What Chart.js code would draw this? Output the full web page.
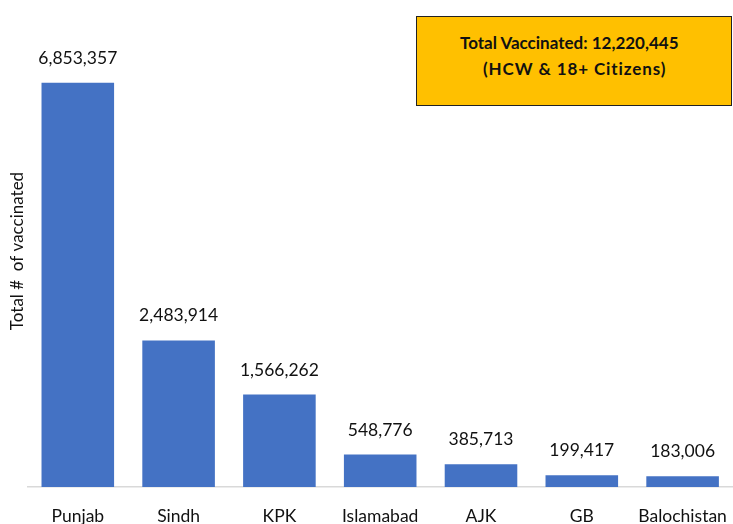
<!DOCTYPE html>
<html>
<head>
<meta charset="utf-8">
<script src="https://cdn.jsdelivr.net/npm/chart.js@4.4.1/dist/chart.umd.min.js"></script>
<style>
  html, body { margin: 0; padding: 0; background: #fff; }
  #wrap { position: relative; width: 733px; height: 524px; overflow: hidden; }
  #totalBox {
    position: absolute; left: 416px; top: 16px; width: 314px; height: 88px;
    background: #FFC000; border: 1.5px solid #222;
    font-family: Lato, "Liberation Sans", sans-serif; font-weight: bold; font-size: 17px;
    color: #111; line-height: 26px;
  }
  #totalBox .l1 { position: absolute; left: 43px; top: 13px; white-space: nowrap; }
  #totalBox .l2 { position: absolute; left: 66px; top: 39px; white-space: nowrap; letter-spacing: 0.9px; }
</style>
</head>
<body>
<div id="wrap">
  <canvas id="vaxChart" width="733" height="546"></canvas>
  <div id="totalBox">
    <span class="l1">Total Vaccinated: 12,220,445</span>
    <span class="l2">(HCW &amp; 18+ Citizens)</span>
  </div>
</div>
<script>
const regions = ["Punjab", "Sindh", "KPK", "Islamabad", "AJK", "GB", "Balochistan"];
const vaccinated = [6853357, 2483914, 1566262, 548776, 385713, 199417, 183006];
const yMax = 8000000;

// ---------- value labels above bars ----------
const valueLabels = {
    id: "valueLabels",
    afterDatasetsDraw(chart) {
        const ctx = chart.ctx;
        const meta = chart.getDatasetMeta(0);
        ctx.save();
        ctx.font = "17.5px Lato, 'Liberation Sans', sans-serif";
        ctx.fillStyle = "#111";
        ctx.textAlign = "center";
        ctx.textBaseline = "alphabetic";
        meta.data.forEach((bar, i) => {
            ctx.fillText(vaccinated[i].toLocaleString("en-US"), bar.x, bar.y - 19);
        });
        ctx.restore();
    }
};

const ctx = document.getElementById("vaxChart").getContext("2d");
new Chart(ctx, {
    type: "bar",
    data: {
        labels: regions,
        datasets: [{
            data: vaccinated,
            backgroundColor: "#4472C4",
            categoryPercentage: 1,
            barPercentage: 0.72
        }]
    },
    options: {
        responsive: false,
        animation: false,
        layout: { padding: { left: 7, right: 0, top: 15, bottom: 0 } },
        scales: {
            x: {
                // let the plot run to the right edge like the original
                afterFit(scale) { scale.paddingLeft = 0; scale.paddingRight = 0; },
                grid: { display: false, drawTicks: false },
                border: { display: true, color: "#D9D9D9", width: 1.5 },
                ticks: {
                    color: "#111",
                    padding: 19,
                    autoSkip: false,
                    maxRotation: 0,
                    font: { family: "Lato, 'Liberation Sans', sans-serif", size: 17.5 }
                }
            },
            y: {
                min: 0,
                max: yMax,
                grid: { display: false, drawTicks: false },
                border: { display: false },
                ticks: { display: false },
                title: {
                    display: true,
                    text: "Total #  of vaccinated",
                    color: "#111",
                    padding: 0,
                    font: { family: "Lato, 'Liberation Sans', sans-serif", size: 17 }
                }
            }
        },
        plugins: {
            legend: { display: false },
            tooltip: { enabled: false }
        }
    },
    plugins: [valueLabels]
});
</script>
</body>
</html>
